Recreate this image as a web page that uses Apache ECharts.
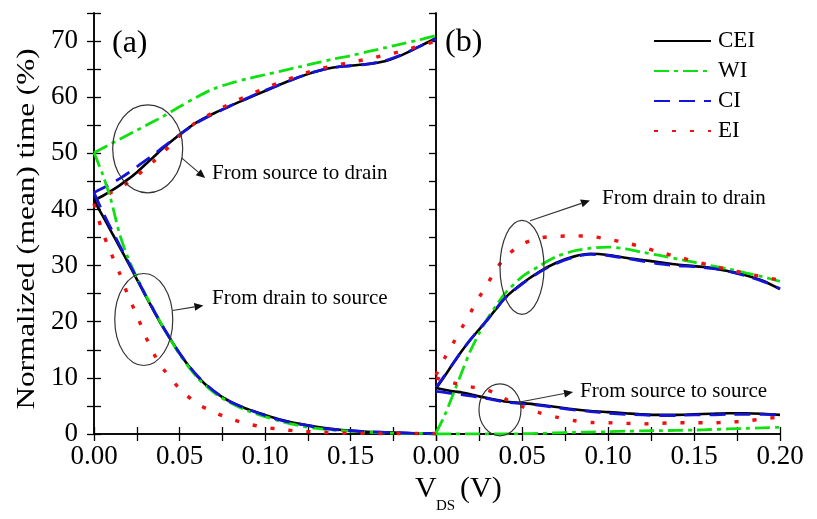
<!DOCTYPE html>
<html>
<head>
<meta charset="utf-8">
<script src="https://cdn.jsdelivr.net/npm/echarts@6/dist/echarts.min.js"></script>
<style>
  html, body { margin: 0; padding: 0; background: #fff; }
  #chart { width: 817px; height: 519px; }
</style>
</head>
<body>
<div id="chart"></div>
<script>
// Drain-source voltage samples (V), shared by every curve
const vds = [0, 0.005, 0.01, 0.015, 0.02, 0.025, 0.03, 0.035, 0.04, 0.05, 0.06, 0.07, 0.08,
             0.09, 0.10, 0.11, 0.12, 0.13, 0.14, 0.15, 0.16, 0.17, 0.18, 0.19, 0.20];

// Panel (a): from source to drain
const ceiSourceDrain = [41.6, 42.4, 43.3, 44.3, 45.4, 46.6, 48.0, 49.4, 50.8, 53.3, 55.5, 57.1, 58.5, 59.8, 61.1, 62.4, 63.6, 64.6, 65.3, 65.6, 65.9, 66.4, 67.5, 69.0, 70.5];
const wiSourceDrain  = [50.1, 50.9, 51.7, 52.5, 53.3, 54.1, 54.9, 55.7, 56.5, 58.3, 60.0, 61.5, 62.5, 63.3, 64.0, 64.7, 65.4, 66.1, 66.8, 67.4, 68.1, 68.8, 69.5, 70.2, 71.0];
const ciSourceDrain  = [43.0, 43.8, 44.6, 45.5, 46.5, 47.6, 48.7, 49.8, 51.0, 53.3, 55.4, 57.0, 58.5, 59.9, 61.2, 62.4, 63.6, 64.6, 65.3, 65.6, 65.9, 66.5, 67.6, 69.0, 70.4];
const eiSourceDrain  = [41.0, 42.0, 43.0, 43.9, 44.8, 46.0, 47.3, 48.6, 50.0, 53.1, 55.6, 57.3, 58.9, 60.3, 61.6, 62.8, 63.9, 64.9, 65.6, 66.2, 66.8, 67.5, 68.2, 69.1, 70.0];

// Panel (a): from drain to source
const ceiDrainSource = [41.6, 38.9, 36.1, 33.3, 30.5, 27.6, 24.7, 21.9, 19.2, 14.4, 10.4, 7.6, 5.7, 4.4, 3.4, 2.5, 1.8, 1.3, 0.9, 0.6, 0.4, 0.3, 0.2, 0.1, 0.1];
const wiDrainSource  = [50.1, 46.3, 41.6, 35.6, 31.3, 27.9, 24.9, 22.1, 19.3, 14.2, 10.2, 7.4, 5.5, 4.1, 3.1, 2.2, 1.5, 1.0, 0.7, 0.5, 0.3, 0.2, 0.1, 0.1, 0.0];
const ciDrainSource  = [43.0, 39.6, 36.6, 33.6, 30.7, 27.8, 24.8, 22.0, 19.3, 14.4, 10.5, 7.7, 5.7, 4.4, 3.3, 2.4, 1.8, 1.2, 0.8, 0.6, 0.4, 0.3, 0.2, 0.1, 0.1];
const eiDrainSource  = [41.0, 36.0, 32.2, 28.6, 24.6, 21.2, 17.5, 14.3, 11.8, 8.1, 5.5, 3.9, 2.7, 1.8, 1.2, 0.8, 0.5, 0.35, 0.2, 0.15, 0.1, 0.1, 0.1, 0.1, 0.1];

// Panel (b): from drain to drain
const ceiDrainDrain = [8.1, 10.3, 12.6, 14.8, 16.8, 18.6, 20.4, 22.3, 24.2, 26.8, 28.9, 30.5, 31.6, 32.1, 31.9, 31.4, 31.0, 30.6, 30.2, 29.9, 29.6, 29.0, 28.3, 27.3, 25.8];
const wiDrainDrain  = [0.2, 3.3, 7.1, 11.0, 14.8, 17.9, 20.6, 22.9, 25.0, 28.0, 29.9, 31.6, 32.6, 33.1, 33.3, 33.0, 32.4, 31.8, 31.2, 30.6, 30.0, 29.4, 28.7, 28.0, 27.2];
const ciDrainDrain  = [8.3, 10.4, 12.6, 14.8, 16.8, 18.6, 20.4, 22.3, 24.2, 26.7, 28.8, 30.4, 31.5, 32.0, 31.8, 31.3, 30.8, 30.3, 30.0, 29.8, 29.5, 29.0, 28.2, 27.2, 25.9];
const eiDrainDrain  = [10.5, 13.5, 16.2, 18.9, 21.6, 24.3, 26.8, 29.3, 31.4, 33.8, 34.9, 35.2, 35.3, 35.2, 34.7, 34.1, 33.3, 32.4, 31.6, 30.8, 30.0, 29.3, 28.6, 28.0, 27.4];

// Panel (b): from source to source
const ceiSourceSource = [8.2, 7.9, 7.6, 7.4, 7.1, 6.7, 6.4, 6.1, 5.8, 5.5, 5.2, 4.8, 4.4, 4.1, 3.9, 3.7, 3.5, 3.4, 3.4, 3.5, 3.6, 3.7, 3.7, 3.6, 3.4];
const wiSourceSource  = [0, 0, 0, 0, 0, 0, 0, 0, 0, 0.05, 0.1, 0.2, 0.3, 0.35, 0.4, 0.5, 0.55, 0.6, 0.65, 0.7, 0.8, 0.9, 1.0, 1.1, 1.2];
const ciSourceSource  = [7.6, 7.4, 7.2, 7.0, 6.8, 6.5, 6.3, 6.0, 5.7, 5.4, 5.1, 4.7, 4.3, 4.0, 3.7, 3.5, 3.4, 3.3, 3.3, 3.4, 3.4, 3.5, 3.5, 3.5, 3.4];
const eiSourceSource  = [10.0, 9.5, 9.1, 8.7, 8.4, 8.2, 7.8, 7.2, 6.3, 4.9, 3.8, 3.0, 2.4, 2.05, 2.0, 1.9, 1.8, 1.9, 2.0, 2.0, 2.0, 2.1, 2.3, 2.7, 3.0];

const methods = ['CEI', 'WI', 'CI', 'EI'];

// Callout captions
const noteTexts = ['From source to drain', 'From drain to source', 'From drain to drain', 'From source to source'];

const FONT = '"Liberation Serif", "Times New Roman", serif';

const styles = {
  CEI: { color: '#000000', width: 2.6, type: 'solid' },
  WI:  { color: '#10e010', width: 2.8, type: [15, 5, 4, 5] },
  CI:  { color: '#1414d8', width: 2.8, type: [16, 9] },
  EI:  { color: '#ee1111', width: 3.4, type: [4, 14] }
};

function pairs(values) { return vds.map((x, i) => [x, values[i]]); }

function curve(name, values, panel) {
  const s = styles[name];
  return {
    name: name,
    type: 'line',
    xAxisIndex: panel * 2,
    yAxisIndex: panel * 2,
    data: pairs(values),
    smooth: 0.3,
    symbol: 'none',
    showSymbol: false,
    silent: true,
    lineStyle: { color: s.color, width: s.width, type: s.type, cap: 'butt' },
    itemStyle: { color: s.color }
  };
}

const frameLine = { show: true, lineStyle: { color: '#000', width: 1.5 } };
const inTick = { show: true, inside: true, length: 7, lineStyle: { color: '#000', width: 1.3 } };

function xLabel(hideEnd) {
  return {
    show: true, margin: 9, color: '#000', fontFamily: FONT, fontSize: 27,
    showMinLabel: true, showMaxLabel: true,
    formatter: v => {
      const k = Math.round(v * 1000);
      if (k % 50 !== 0) return '';
      if (hideEnd && k === 200) return '';
      return v.toFixed(2);
    }
  };
}

function xAxisDef(grid, pos, labels, hideEnd) {
  return {
    type: 'value', gridIndex: grid, position: pos, min: 0, max: 0.2, interval: 0.025,
    axisLine: frameLine, axisTick: inTick, splitLine: { show: false },
    axisLabel: labels ? xLabel(hideEnd) : { show: false }
  };
}

function yAxisDef(grid, pos, labels, ticks) {
  return {
    type: 'value', gridIndex: grid, position: pos, min: 0, max: 75, interval: 5,
    axisLine: frameLine, axisTick: ticks ? inTick : { show: false }, splitLine: { show: false },
    axisLabel: labels ? {
      show: true, margin: 16, color: '#000', fontFamily: FONT, fontSize: 27,
      formatter: v => (v % 10 === 0 ? String(v) : '')
    } : { show: false }
  };
}

const series = [
  curve('CEI', ceiSourceDrain, 0), curve('WI', wiSourceDrain, 0), curve('CI', ciSourceDrain, 0), curve('EI', eiSourceDrain, 0),
  curve('CEI', ceiDrainSource, 0), curve('WI', wiDrainSource, 0), curve('CI', ciDrainSource, 0), curve('EI', eiDrainSource, 0),
  curve('CEI', ceiDrainDrain, 1), curve('WI', wiDrainDrain, 1), curve('CI', ciDrainDrain, 1), curve('EI', eiDrainDrain, 1),
  curve('CEI', ceiSourceSource, 1), curve('WI', wiSourceSource, 1), curve('CI', ciSourceSource, 1), curve('EI', eiSourceSource, 1)
];

const chart = echarts.init(document.getElementById('chart'), null, { renderer: 'canvas' });

chart.setOption({
  animation: false,
  backgroundColor: '#ffffff',
  grid: [
    { left: 94, right: 381, top: 13, bottom: 85 },
    { left: 436, right: 37, top: 13, bottom: 85 }
  ],
  xAxis: [
    xAxisDef(0, 'bottom', true, true),
    xAxisDef(0, 'top', false),
    xAxisDef(1, 'bottom', true, false),
    xAxisDef(1, 'top', false)
  ],
  yAxis: [
    yAxisDef(0, 'left', true, true),
    yAxisDef(0, 'right', false, true),
    yAxisDef(1, 'left', false, false),
    yAxisDef(1, 'right', false, true)
  ],
  legend: {
    data: methods.map(m => ({ name: m, itemStyle: { opacity: 0 } })),
    orient: 'vertical',
    left: 648,
    top: 24,
    itemWidth: 57,
    itemHeight: 14,
    itemGap: 6,
    selectedMode: false,
    itemStyle: { opacity: 0 },
    textStyle: { fontFamily: FONT, fontSize: 23, color: '#000', lineHeight: 24, padding: [0, 0, 0, 2] }
  },
  series: series
});

// Callouts, anchored in data space: ellipse centre, arrow tail, arrow head, caption start
const callouts = [
  { panel: 0, centre: [0.0314, 50.8], rx: 35, ry: 44, tail: [0.0512, 49.2], head: [0.0650, 45.6], text: [0.069, 46.4], caption: noteTexts[0] },
  { panel: 0, centre: [0.0291, 20.4], rx: 29, ry: 46, tail: [0.0460, 22.0], head: [0.0640, 22.9], text: [0.069, 24.2], caption: noteTexts[1] },
  { panel: 1, centre: [0.0500, 29.7], rx: 22, ry: 47, tail: [0.0547, 38.0], head: [0.0895, 41.6], text: [0.0965, 41.9], caption: noteTexts[2] },
  { panel: 1, centre: [0.0372, 4.3],  rx: 21, ry: 26, tail: [0.0488, 5.7],  head: [0.0797, 7.5],  text: [0.0837, 7.5],  caption: noteTexts[3] }
];

function px(panel, pt) {
  return chart.convertToPixel({ xAxisIndex: panel * 2, yAxisIndex: panel * 2 }, pt);
}

function label(text, x, y, size, extra) {
  return Object.assign({
    type: 'text', silent: true, z: 50, x: x, y: y,
    style: { text: text, fontFamily: FONT, fontSize: size, fill: '#000', align: 'left', verticalAlign: 'middle' }
  }, extra || {});
}

const graphics = [];
callouts.forEach(c => {
  const ctr = px(c.panel, c.centre);
  const t = px(c.panel, c.tail);
  const h = px(c.panel, c.head);
  const tx = px(c.panel, c.text);
  graphics.push({
    type: 'ellipse', silent: true, z: 50,
    shape: { cx: ctr[0], cy: ctr[1], rx: c.rx, ry: c.ry },
    style: { fill: 'none', stroke: '#333', lineWidth: 1.2 }
  });
  const ang = Math.atan2(h[1] - t[1], h[0] - t[0]);
  const len = 9, half = 4;
  const bx = h[0] - len * Math.cos(ang), by = h[1] - len * Math.sin(ang);
  graphics.push({
    type: 'line', silent: true, z: 50,
    shape: { x1: t[0], y1: t[1], x2: bx, y2: by },
    style: { stroke: '#333', lineWidth: 1.1 }
  });
  graphics.push({
    type: 'polygon', silent: true, z: 50,
    shape: { points: [
      [h[0], h[1]],
      [bx + half * Math.sin(ang), by - half * Math.cos(ang)],
      [bx - half * Math.sin(ang), by + half * Math.cos(ang)]
    ] },
    style: { fill: '#111' }
  });
  graphics.push(label(c.caption, tx[0], tx[1], 21));
});

// Panel tags
graphics.push(label('(a)', 112, 44, 32));
graphics.push(label('(b)', 445, 43, 32));

// Axis titles
graphics.push(label('Normalized (mean) time (%)', 27, 229, 26, { rotation: Math.PI / 2, scaleX: 1.2 }));
graphics[graphics.length - 1].style.align = 'center';
graphics.push(label('V', 415, 489, 30));
graphics.push(label('DS', 436, 506, 15));
graphics.push(label('(V)', 460, 489, 30));

chart.setOption({ graphic: graphics });
</script>
</body>
</html>
